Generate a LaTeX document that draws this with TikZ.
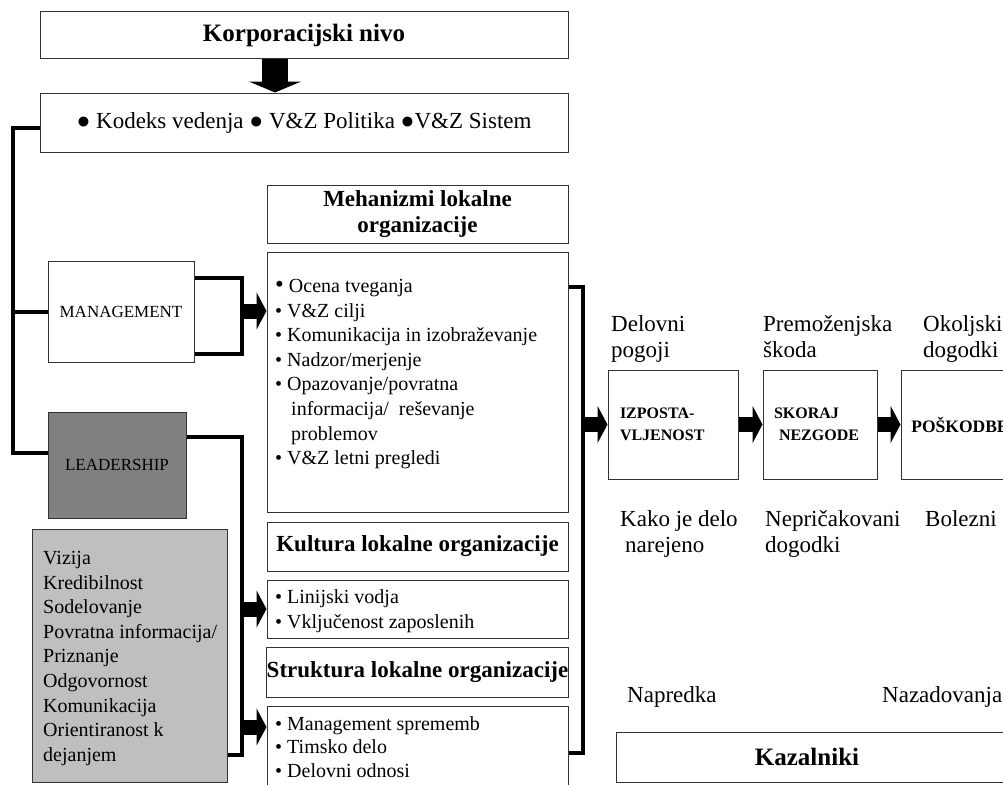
\documentclass[tikz,border=0pt]{standalone}
\usepackage{fontspec}
\setmainfont{Liberation Serif}
\usetikzlibrary{arrows.meta,calc}

\begin{document}
\begin{tikzpicture}[x=1pt, y=-1pt,
  okvir/.style = {draw=black!80, line width=1pt, inner sep=0pt, align=center},
  naslov/.style = {font=\fontsize{23}{26}\selectfont\bfseries},
  seznam/.style = {inner sep=0pt, anchor=north west, align=left, font=\fontsize{20}{24.6}\selectfont},
  oznaka/.style = {inner sep=0pt, anchor=north west, align=left, font=\fontsize{23}{26.5}\selectfont},
  velike/.style = {font=\fontsize{16}{22}\selectfont\bfseries},
  povezava/.style = {line width=4pt},
  puscica/.style = {line width=15pt, -{Triangle[length=10pt 0 0,width=37pt 0 0]}},
  ]
  \useasboundingbox (0,0) rectangle (1003,784);

  % korporacijski nivo
  \node[okvir, minimum width=528pt, minimum height=47pt, font=\fontsize{25}{28}\selectfont\bfseries] (korp) at (304,35.5) {Korporacijski nivo};
  \node[okvir, minimum width=528pt, minimum height=59pt, font=\fontsize{23}{26}\selectfont] (kodeks) at (304,122.5) {● Kodeks vedenja ● V\&Z Politika ●V\&Z Sistem};
  \coordinate (ax) at (275,0);
  \draw[line width=26pt, -{Triangle[length=11pt 0 0,width=52pt 0 0]}] (ax |- korp.south) -- (ax |- kodeks.north);

  % levi stolpec
  \node[okvir, minimum width=146pt, minimum height=101pt, font=\fontsize{17}{20}\selectfont] (mgmt) at (121,311.5) {MANAGEMENT};
  \node[okvir, fill=black!50, minimum width=138pt, minimum height=106pt, font=\fontsize{17}{20}\selectfont] (lead) at (117,465) {LEADERSHIP};
  \node[okvir, fill=black!25, minimum width=195pt, minimum height=253pt] (vizija) at (129.5,655.5) {};
  \node[seznam] (vizijatxt) at (43,551) {Vizija\\Kredibilnost\\Sodelovanje\\Povratna informacija/\\Priznanje\\Odgovornost\\Komunikacija\\Orientiranost k\\dejanjem};

  % lokalna organizacija
  \node[okvir, naslov, minimum width=301pt, minimum height=58pt] (mehH) at (417.5,214) {Mehanizmi lokalne\\organizacije};
  \node[okvir, minimum width=301pt, minimum height=260pt] (mehL) at (417.5,382) {};
  \node[seznam] (mehtxt) at (275,279) {{\fontsize{25}{24.6}\selectfont•} Ocena tveganja\\• V\&Z cilji\\• Komunikacija in izobraževanje\\• Nadzor/merjenje\\• Opazovanje/povratna\\\hspace*{16pt}informacija/\ \ reševanje\\\hspace*{16pt}problemov\\• V\&Z letni pregledi};

  \node[okvir, naslov, minimum width=301pt, minimum height=49pt] (kultH) at (417.5,546.5) {Kultura lokalne organizacije};
  \node[okvir, minimum width=301pt, minimum height=58pt] (kultL) at (417.5,609) {};
  \node[seznam] (kulttxt) at (275,589.5) {• Linijski vodja\\• Vključenost zaposlenih};

  \node[okvir, naslov, minimum width=301pt, minimum height=50pt] (strH) at (417.5,672) {Struktura lokalne organizacije};
  \node[okvir, minimum width=301pt, minimum height=84pt] (strL) at (417.5,748) {};
  \node[seznam, font=\fontsize{20}{23.5}\selectfont] (strtxt) at (275,716) {• Management sprememb\\• Timsko delo\\• Delovni odnosi};

  % kazalniki
  \node[okvir, velike, minimum width=130pt, minimum height=109pt, text width=106pt, align=left] (izp) at (673,424.5) {IZPOSTA-\\VLJENOST};
  \node[okvir, velike, minimum width=114pt, minimum height=109pt, text width=92pt, align=left] (skor) at (820,424.5) {SKORAJ\\\hspace*{5pt}NEZGODE};
  \node[okvir, minimum width=118pt, minimum height=109pt, font=\fontsize{17.5}{22}\selectfont\bfseries] (posk) at (960,424.5) {POŠKODBE};

  \node[oznaka] (delo) at (611,315) {Delovni\\pogoji};
  \node[oznaka] (skoda) at (763,315) {Premoženjska\\škoda};
  \node[oznaka] (okolje) at (923,315) {Okoljski\\dogodki};
  \node[oznaka] (kako) at (620,510) {Kako je delo\\\hspace*{5pt}narejeno};
  \node[oznaka] (nepric) at (765,510) {Nepričakovani\\dogodki};
  \node[oznaka] (bolezni) at (925,510) {Bolezni};
  \node[oznaka] (napredek) at (627,686) {Napredka};
  \node[oznaka] (nazad) at (882,686) {Nazadovanja};

  \node[okvir, minimum width=400pt, minimum height=50pt] (kaz) at (816,757) {};
  \node[font=\fontsize{25}{28}\selectfont\bfseries, inner sep=0pt] (kaztxt) at (807,757) {Kazalniki};

  % povezave
  \coordinate (spine) at (13,128);
  \draw[povezava] (spine -| kodeks.west) -- (spine) |- ($(lead.north west)+(0,41)$);
  \draw[povezava] (spine |- mgmt.west) -- (mgmt.west);

  \coordinate (mbr) at (242,311);
  \draw[povezava] ($(mgmt.north east)+(0,17)$) -| (mbr) |- ($(mgmt.south east)+(0,-9)$);
  \draw[puscica] (mbr) -- (mbr -| mehL.west);

  \coordinate (lgor) at (242,437);
  \coordinate (ldol) at (242,755);
  \coordinate (sin) at (242,727);
  \draw[povezava] (lgor -| lead.east) -- (lgor) -- (ldol) -- (ldol -| vizija.east);
  \draw[puscica] (lgor |- kultL.west) -- (kultL.west);
  \draw[puscica] (sin) -- (sin -| strL.west);

  \coordinate (rgor) at (583,287);
  \coordinate (rdol) at (583,753);
  \draw[povezava] (rgor -| mehL.east) -- (rgor) -- (rdol) -- (rdol -| strL.east);
  \draw[puscica] (rgor |- izp.west) -- (izp.west);
  \draw[puscica] (izp.east) -- (skor.west);
  \draw[puscica] (skor.east) -- (posk.west);
\end{tikzpicture}
\end{document}
